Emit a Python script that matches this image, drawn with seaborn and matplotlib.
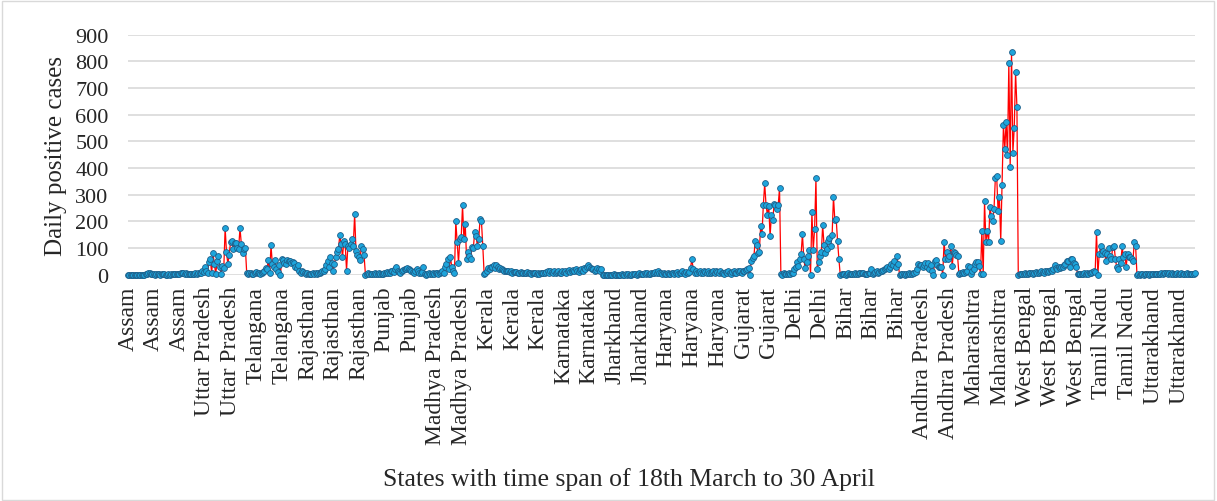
import matplotlib
matplotlib.use('Agg')
import matplotlib.pyplot as plt
from matplotlib.patches import Rectangle
import seaborn as sns
import pandas as pd

# state order as in the chart, 44 days each (18 March - 30 April)
states = ['Assam', 'Uttar Pradesh', 'Telangana', 'Rajasthan', 'Punjab', 'Madhya Pradesh',
          'Kerala', 'Karnataka', 'Jharkhand', 'Haryana', 'Gujarat', 'Delhi', 'Bihar',
          'Andhra Pradesh', 'Maharashtra', 'West Bengal', 'Tamil Nadu', 'Uttarakhand']

assam = [0, 0, 0, 0, 0, 0, 0, 0, 0, 0, 0, 0, 0, 1, 2, 5, 8, 4, 2, 1, 0, 1, 2, 1, 0, 1, 1, 2, 0, 0,
         1, 0, 1, 2, 3, 1, 2, 4, 3, 5, 6, 8, 4, 6]
uttar_pradesh = [2, 1, 3, 4, 2, 3, 5, 4, 6, 8, 5, 12, 10, 28, 15, 8, 48, 59, 5, 80, 40, 2, 50, 69, 30,
                 2, 32, 25, 175, 85, 40, 75, 122, 125, 96, 120, 119, 100, 98, 175, 115, 80, 95, 100]
telangana = [5, 3, 8, 6, 2, 4, 6, 10, 8, 5, 3, 6, 10, 12, 25, 20, 55, 5, 110, 40, 30, 55, 20, 10, 35,
             0, 60, 55, 45, 40, 55, 50, 52, 45, 48, 42, 30, 25, 35, 12, 5, 15, 10, 8]
rajasthan = [2, 5, 3, 1, 4, 6, 2, 5, 3, 8, 6, 10, 12, 15, 23, 35, 53, 28, 65, 43, 15, 40, 65, 84, 96,
             149, 115, 65, 127, 115, 15, 109, 99, 115, 134, 109, 226, 90, 72, 65, 55, 109, 96, 72]
punjab = [0, 2, 5, 1, 3, 4, 2, 6, 3, 1, 5, 4, 2, 3, 6, 8, 10, 5, 8, 12, 15, 10, 20, 28, 15, 10, 8, 12,
          18, 20, 22, 25, 20, 18, 15, 10, 8, 12, 20, 15, 8, 5, 10, 30]
madhya_pradesh = [2, 0, 3, 5, 1, 4, 6, 2, 5, 8, 3, 6, 10, 12, 8, 28, 40, 58, 20, 65, 30, 15, 5, 201,
                  122, 45, 134, 140, 261, 134, 190, 58, 84, 70, 58, 103, 100, 159, 146, 109, 134,
                  209, 201, 109]
kerala = [3, 8, 15, 25, 20, 30, 28, 38, 25, 35, 30, 22, 25, 20, 18, 15, 15, 12, 14, 10, 12, 8, 10, 9,
          11, 8, 6, 10, 7, 5, 8, 6, 9, 5, 7, 4, 6, 8, 5, 3, 7, 4, 6, 5]
karnataka = [8, 5, 10, 12, 6, 15, 10, 8, 12, 5, 10, 14, 8, 6, 12, 10, 15, 8, 12, 16, 10, 14, 18, 12,
             20, 15, 10, 18, 22, 15, 25, 20, 28, 38, 30, 25, 20, 22, 15, 18, 25, 20, 15, 22]
jharkhand = [0, 0, 0, 0, 0, 0, 0, 0, 1, 0, 0, 0, 0, 0, 1, 0, 0, 2, 0, 1, 0, 0, 2, 1, 3, 0, 2, 5, 3, 4,
             2, 6, 3, 5, 2, 4, 6, 8, 5, 10, 6, 15, 8, 5]
haryana = [2, 5, 3, 1, 6, 4, 2, 8, 5, 3, 6, 10, 4, 8, 5, 12, 7, 3, 9, 6, 10, 25, 58, 22, 8, 12, 6, 10,
           15, 8, 5, 12, 10, 6, 14, 8, 5, 10, 12, 8, 15, 10, 6, 12]
gujarat = [5, 8, 3, 10, 6, 12, 8, 4, 10, 15, 8, 6, 12, 10, 14, 8, 12, 15, 18, 20, 25, 0, 50, 61, 69,
           128, 111, 81, 86, 181, 152, 261, 342, 261, 225, 259, 144, 225, 206, 265, 261, 246, 260, 324]
delhi = [2, 0, 5, 3, 1, 4, 6, 2, 8, 5, 21, 30, 49, 34, 59, 78, 152, 60, 24, 46, 69, 93, 0, 234, 93,
         171, 361, 21, 49, 71, 84, 186, 111, 81, 96, 128, 138, 109, 150, 292, 205, 209, 128, 60]
bihar = [0, 2, 1, 3, 0, 2, 5, 1, 3, 4, 2, 6, 3, 1, 5, 8, 6, 5, 3, 2, 4, 6, 8, 20, 3, 7, 10, 12, 8, 10,
         15, 12, 18, 20, 25, 28, 22, 30, 40, 35, 52, 27, 69, 40]
andhra_pradesh = [0, 2, 1, 3, 0, 4, 2, 5, 3, 1, 6, 8, 10, 20, 40, 37, 35, 30, 37, 43, 30, 43, 22, 35,
                  15, 0, 50, 55, 37, 30, 27, 30, 0, 124, 58, 84, 58, 70, 109, 32, 84, 80, 75, 70]
maharashtra = [2, 5, 8, 11, 5, 10, 15, 34, 27, 2, 15, 21, 40, 46, 49, 34, 2, 164, 2, 277, 123, 165,
               123, 252, 221, 202, 246, 361, 369, 240, 293, 127, 337, 562, 473, 571, 448, 793, 405,
               834, 458, 549, 759, 630]
west_bengal = [0, 2, 1, 3, 2, 5, 4, 3, 6, 5, 8, 4, 7, 10, 8, 6, 9, 12, 10, 8, 12, 15, 10, 13, 18, 15,
               20, 35, 25, 22, 30, 25, 28, 30, 35, 40, 52, 50, 30, 58, 60, 43, 40, 28]
tamil_nadu = [2, 3, 1, 4, 2, 5, 3, 6, 4, 8, 5, 10, 15, 10, 161, 0, 77, 106, 77, 90, 80, 52, 77, 99, 70,
              58, 103, 109, 60, 27, 20, 58, 43, 106, 65, 77, 30, 77, 65, 65, 60, 52, 122, 106]
uttarakhand = [0, 1, 0, 2, 1, 0, 3, 1, 2, 0, 1, 2, 3, 1, 2, 4, 2, 3, 5, 4, 6, 8, 5, 4, 6, 3, 5, 4, 2,
               3, 5, 4, 3, 6, 2, 4, 3, 5, 2, 4, 3, 2, 4, 5]

series = [assam, uttar_pradesh, telangana, rajasthan, punjab, madhya_pradesh, kerala, karnataka,
          jharkhand, haryana, gujarat, delhi, bihar, andhra_pradesh, maharashtra, west_bengal,
          tamil_nadu, uttarakhand]

rows = []
for state, vals in zip(states, series):
    for v in vals:
        rows.append({'state': state, 'cases': v})
df = pd.DataFrame(rows)
df['idx'] = range(len(df))

sns.set_style('white')
plt.rcParams['font.family'] = ['Liberation Serif', 'DejaVu Serif']

fig = plt.figure(figsize=(12.17, 5.02), dpi=100)
ax = fig.add_axes([0.1052, 0.4508, 0.8767, 0.4781])

sns.lineplot(data=df, x='idx', y='cases', ax=ax, color='#ff0000', linewidth=0.9,
             marker='o', markersize=4.2, markerfacecolor='#1ea5dc',
             markeredgecolor='#1d5f8a', markeredgewidth=0.6)
for line in ax.lines:
    line.set_clip_on(False)

ax.set_xlim(0, len(df) - 1)
ax.set_ylim(0, 900)
ax.set_yticks(range(0, 901, 100))
ax.grid(axis='y', color='#d9d9d9', linewidth=1.2)
ax.set_axisbelow(True)
for sp in ax.spines.values():
    sp.set_visible(False)

# Excel style: one category label every 19 points
tick_pos = list(range(0, len(df), 19))
ax.set_xticks(tick_pos)
ax.set_xticklabels([df['state'][i] for i in tick_pos], rotation=90, va='top', ha='center')
ax.tick_params(axis='y', length=0, labelsize=16, pad=14)
ax.tick_params(axis='x', length=0, labelsize=17, pad=8)

ax.set_xlabel('')
ax.set_ylabel('Daily positive cases', fontsize=18)
ax.yaxis.set_label_coords(-0.0574, 0.5)

fig.text(629 / 1217, 1 - 480 / 502, 'States with time span of 18th March to 30 April',
         ha='center', va='center', fontsize=18.5)

fig.add_artist(Rectangle((0.0015, 0.002), 0.996, 0.995, transform=fig.transFigure,
                         fill=False, edgecolor='#d9d9d9', linewidth=1))

fig.savefig('out.png', dpi=100)
